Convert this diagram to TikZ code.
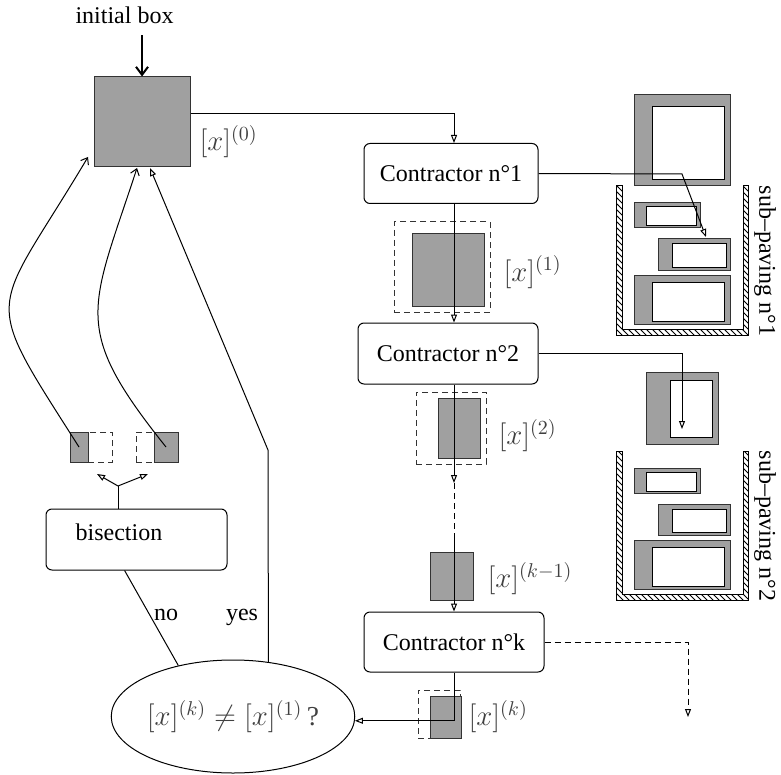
\documentclass[tikz,border=0pt]{standalone}
\usepackage[no-math]{fontspec}
\setmainfont{Liberation Serif}
\usepackage{amsmath, amssymb}
\usepackage{tikz}
\usetikzlibrary{arrows.meta, positioning, calc, shapes.geometric, patterns}
\definecolor{mBoxGray}{HTML}{A0A0A0}
\definecolor{mEdge}{HTML}{333333}
\definecolor{mLabel}{HTML}{404040}

\begin{document}
\begin{tikzpicture}[x=0.5pt, y=-0.5pt, line width=0.5pt,
      >={Triangle[open, length=4pt, width=3pt]},
      txt/.style={font=\fontsize{12}{14}\selectfont},
      lab/.style={inner sep=0pt, anchor=west, text=mLabel, font=\fontsize{14}{16}\selectfont},
      contr/.style={draw, rounded corners=3pt, minimum width=#1, minimum height=30pt, txt},
      gbox/.style 2 args={draw=mEdge, fill=mBoxGray, inner sep=0pt, minimum width=#1*0.5pt, minimum height=#2*0.5pt},
      dbox/.style 2 args={draw=mEdge, dash pattern=on 3pt off 2pt, inner sep=0pt, minimum width=#1*0.5pt, minimum height=#2*0.5pt},
      pav/.style={draw=mEdge, fill=mBoxGray},
      barb/.style={-{Straight Barb[length=3pt, width=4.5pt]}},
      test/.style={ellipse, draw, minimum width=109pt, minimum height=56.5pt, inner sep=0pt, text=mLabel, font=\fontsize{13.7}{16}\selectfont}]
    \useasboundingbox (0,0) rectangle (781,775);
    \node[txt, anchor=base] (init) at (124.5,24) {initial box};
    \node[gbox={96}{90}] (x0) at (142,122) {};
    \node[lab] (l0) at (199,141.5) {$[x]^{(0)}$};
    \node[contr=87pt] (c1) at (451,173.5) {Contractor n°1};
    \node[dbox={96}{90}] (d1) at (442,267) {};
    \node[gbox={72}{72}] (x1) at (448,270) {};
    \node[lab] (l1) at (503,272) {$[x]^{(1)}$};
    \node[contr=90pt, minimum height=30.5pt] (c2) at (448,353.5) {Contractor n°2};
    \node[dbox={70}{72}] (d2) at (451,428) {};
    \node[gbox={42}{60}] (x2) at (459,428) {};
    \node[lab] (l2) at (498,435.5) {$[x]^{(2)}$};
    \node[gbox={43}{48}] (xk1) at (451.5,576) {};
    \node[lab] (lk1) at (487,578.5) {$[x]^{(k-1)}$};
    \node[contr=90pt] (ck) at (454,642) {Contractor n°k};
    \node[dbox={42}{48}] (dk) at (439,714) {};
    \node[gbox={31}{42}] (xk) at (445.5,717) {};
    \node[lab] (lk) at (468,716.5) {$[x]^{(k)}$};
    \node[test] (tst) at (233,716.5) {$[x]^{(k)} \neq [x]^{(1)}$\,?};
    \node[contr=90.5pt, minimum height=30.5pt] (bis) at (136.5,539.5) {};
    \node[txt, anchor=base] (bistxt) at (119,540) {bisection};
    \node[dbox={24}{30}] (bld) at (100,447) {};
    \node[dbox={18}{30}] (brd) at (145,447) {};
    \node[gbox={18}{30}] (bl) at (79,447) {};
    \node[gbox={24}{30}] (br) at (166,447) {};
    \node[txt, anchor=base] (no) at (166,620) {no};
    \node[txt, anchor=base] (yes) at (242,620) {yes};
    \foreach \dy/\n in {0/1, 265/2} {
      \begin{scope}[shift={(0,\dy)}]
        \draw[pattern=north west lines] (616,186) -- (616,335) -- (748,335) -- (748,186)
          -- (743,186) -- (743,329) -- (622,329) -- (622,186) -- cycle;
        \draw[pav] (634,203) rectangle (700,228);
        \draw[fill=white] (646,207) rectangle (696,226);
        \draw[pav] (658,239) rectangle (730,270);
        \draw[fill=white] (672,244) rectangle (726,267);
        \draw[pav] (634,275) rectangle (730,324);
        \draw[fill=white] (652,282) rectangle (724,321);
        \node[txt, rotate=-90] (sp\n) at (765,261) {sub–paving n°\n};
      \end{scope}
    }
    \draw[pav] (634,95) rectangle (730,186);
    \draw[fill=white] (652,107) rectangle (724,180);
    \draw[pav] (646,372) rectangle (718,444);
    \draw[fill=white] (670,380) rectangle (712,437);
    \coordinate (col) at (454,0);
    \coordinate (gap) at (454,483);
    \coordinate (gapend) at (454,535);
    \coordinate (s1) at (682,174);
    \coordinate (s1tip) at (706,237);
    \coordinate (s2tip) at (682,429);
    \coordinate (sk) at (688,717);
    \coordinate (fork) at (118,486);
    \coordinate (hl) at (97,474);
    \coordinate (hr) at (148,474);
    \coordinate (in1) at (88,157);
    \coordinate (in2) at (137,168);
    \coordinate (in3) at (150,168);
    \coordinate (yb) at (268,450);
    \draw[line width=1pt, -{Straight Barb[length=4pt, width=6pt]}, shorten <=2pt] (init.south -| x0.north) -- (x0.north);
    \draw[->] (x0.10) -| (c1.north -| col);
    \draw[->] (c1.south -| col) -- (c2.north -| col);
    \draw[->] (c2.south -| col) -- (gap);
    \draw[dash pattern=on 3pt off 2pt] (gap) -- (gapend);
    \draw[->] (gapend) -- (ck.north -| col);
    \draw[->] (ck.south -| col) |- (tst.-2);
    \draw[->] (c1.east) -- (s1) -- (s1tip);
    \draw[->] (c2.east) -| (s2tip);
    \draw[->, dash pattern=on 3pt off 2pt] (ck.east) -| (sk);
    \draw (fork |- bis.north) -- (fork);
    \draw[->] (fork) -- (hl);
    \draw[->] (fork) -- (hr);
    \draw[barb] (bl.center) .. controls (-21.5,289) and (-9,320) .. (in1);
    \draw[barb] (br.center) .. controls (70,327) and (90.5,310.5) .. (in2);
    \draw[->] (tst.57) -- (yb) -- (in3);
    \draw (bis.249) -- (tst.137);
  \end{tikzpicture}
\end{document}
